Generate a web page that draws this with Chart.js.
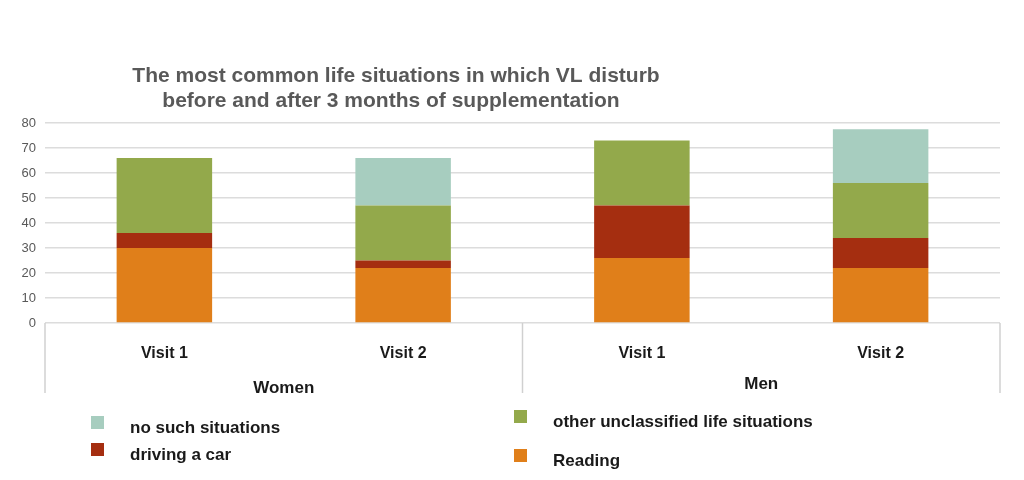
<!DOCTYPE html>
<html>
<head>
<meta charset="utf-8">
<script src="https://cdn.jsdelivr.net/npm/chart.js@4/dist/chart.umd.min.js"></script>
<style>
  html, body { margin: 0; padding: 0; background: #fff; }
  #wrap { width: 1024px; height: 480px; position: relative; }
</style>
</head>
<body>
<div id="wrap"><canvas id="chart" width="1024" height="480"></canvas></div>
<script>
// categories
const visits = ['Visit 1', 'Visit 2', 'Visit 1', 'Visit 2'];
const groups = ['Women', 'Men'];
const yTicks = [0, 10, 20, 30, 40, 50, 60, 70, 80];

// series
const reading = [30, 22, 26, 22];
const drivingCar = [6, 3, 21, 12];
const otherSituations = [30, 22, 26, 22];
const noSuchSituations = [0, 19, 0, 21.5];

const titleLines = [
    'The most common life situations in which VL disturb',
    'before and after 3 months of supplementation'
];

// draws the title, the Women / Men group row and the legend
const extras = {
    id: 'extras',
    afterDraw(chart) {
        let ctx = chart.ctx;
        let x = chart.scales.x;
        let area = chart.chartArea;
        ctx.save();

        // title
        ctx.fillStyle = '#595959';
        ctx.font = 'bold 21px "Liberation Sans", Arial, sans-serif';
        ctx.textAlign = 'center';
        ctx.textBaseline = 'middle';
        ctx.fillText(titleLines[0], 396, 76);
        ctx.fillText(titleLines[1], 391, 101);

        // group separators
        ctx.strokeStyle = '#d0d0d0';
        ctx.lineWidth = 1.5;
        let half = (x.getPixelForValue(1) - x.getPixelForValue(0)) / 2;
        let seps = [x.getPixelForValue(0) - half, x.getPixelForValue(2) - half, x.getPixelForValue(3) + half];
        seps.forEach(function (s) {
            ctx.beginPath();
            ctx.moveTo(s, area.bottom);
            ctx.lineTo(s, area.bottom + 70);
            ctx.stroke();
        });

        // group labels
        ctx.fillStyle = '#1a1a1a';
        ctx.font = 'bold 17px "Liberation Sans", Arial, sans-serif';
        for (let g = 0; g < groups.length; g++) {
            let cx = (x.getPixelForValue(g * 2) + x.getPixelForValue(g * 2 + 1)) / 2;
            ctx.fillText(groups[g], cx, 388 - g * 4);
        }

        // legend, two columns
        let ds = chart.data.datasets;
        let order = [3, 2, 1, 0];
        let spots = [[97, 428], [520, 422], [97, 455], [520, 461]];
        ctx.font = 'bold 17px "Liberation Sans", Arial, sans-serif';
        ctx.textAlign = 'left';
        for (let i = 0; i < order.length; i++) {
            let d = ds[order[i]];
            let p = spots[i];
            ctx.fillStyle = d.backgroundColor;
            ctx.fillRect(p[0] - 6, p[1] - 12, 13, 13);
            ctx.fillStyle = '#1a1a1a';
            ctx.fillText(d.label, p[0] + 33, p[1]);
        }
        ctx.restore();
    }
};

let ctx = document.getElementById('chart');
let chart = new Chart(ctx, {
    type: 'bar',
    data: {
        labels: visits,
        datasets: [
            { label: 'Reading', data: reading, backgroundColor: '#E07F1A' },
            { label: 'driving a car', data: drivingCar, backgroundColor: '#A52E10' },
            { label: 'other unclassified life situations', data: otherSituations, backgroundColor: '#93A94B' },
            { label: 'no such situations', data: noSuchSituations, backgroundColor: '#A7CDBF' }
        ]
    },
    options: {
        responsive: false,
        animation: false,
        layout: { padding: { top: 123, right: 24, left: 0, bottom: 0 } },
        datasets: { bar: { barPercentage: 0.8, categoryPercentage: 0.5 } },
        plugins: {
            legend: { display: false },
            tooltip: { enabled: false }
        },
        scales: {
            x: {
                stacked: true,
                grid: { display: false },
                border: { display: false },
                ticks: {
                    padding: 13,
                    color: '#1a1a1a',
                    font: { family: '"Liberation Sans", Arial, sans-serif', size: 16, weight: 'bold' }
                },
                afterFit: function (scale) { scale.height = 157; }
            },
            y: {
                stacked: true,
                min: 0,
                max: 80,
                afterBuildTicks: function (scale) {
                    scale.ticks = yTicks.map(function (v) { return { value: v }; });
                },
                grid: { color: '#dcdcdc', lineWidth: 1.5, drawTicks: false },
                border: { display: false },
                ticks: {
                    padding: 9,
                    color: '#595959',
                    font: { family: '"Liberation Sans", Arial, sans-serif', size: 13 }
                },
                afterFit: function (scale) { scale.width = 45; }
            }
        }
    },
    plugins: [extras]
});
</script>
</body>
</html>
